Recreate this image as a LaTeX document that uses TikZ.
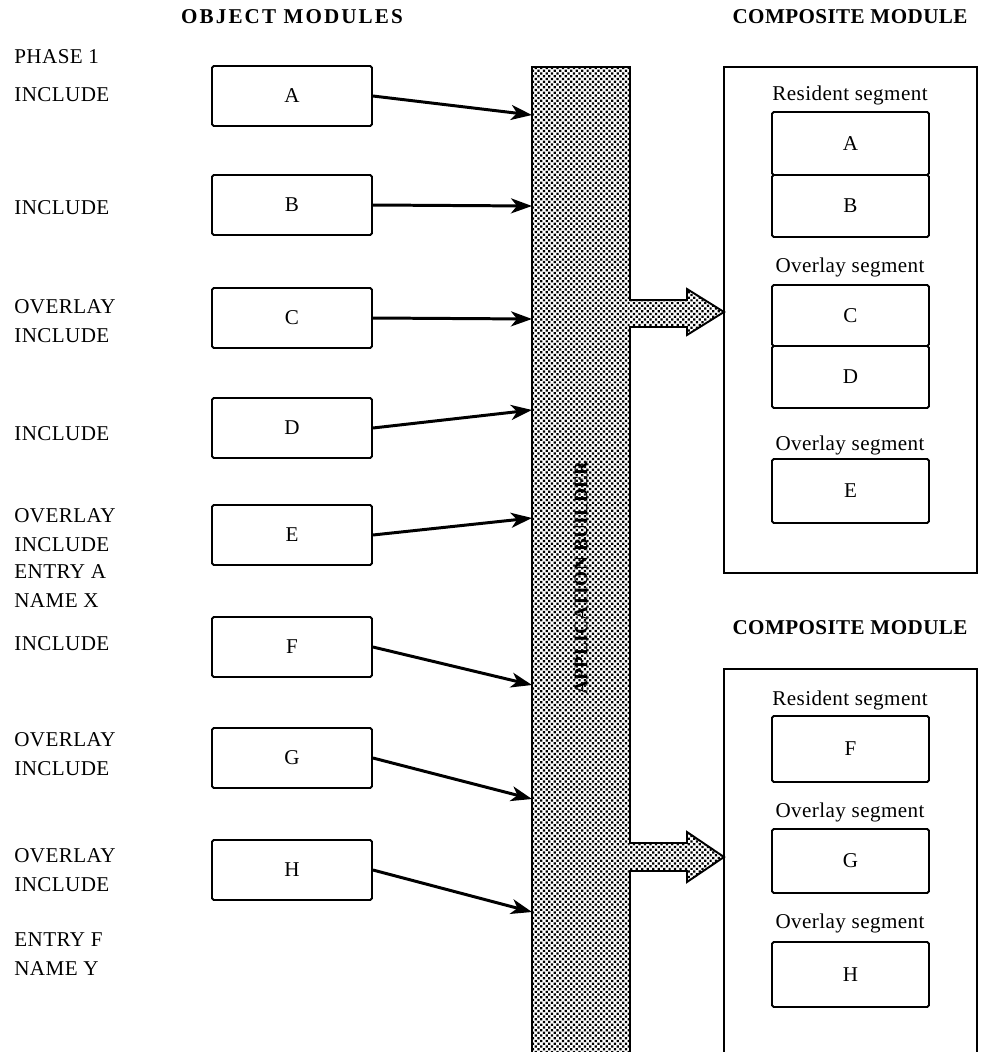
\documentclass[tikz,border=0pt]{standalone}
\usepackage{fontspec}
\setmainfont{Liberation Serif}[LetterSpace=2]
\newfontfamily\headfont{Liberation Serif}[LetterSpace=10]
\usetikzlibrary{arrows.meta,patterns.meta}

\tikzset{
  objbox/.style={draw,line width=1.1pt,rounded corners=1pt,minimum width=3.2cm,minimum height=1.2cm,inner sep=0pt},
  segbox/.style={draw,line width=1.1pt,rounded corners=1pt,minimum width=3.14cm,minimum height=1.26cm,inner sep=0pt},
  cmdlabel/.style={anchor=west,align=left,inner sep=0pt},
  heading/.style={font=\fontsize{12}{14}\headfont\bfseries,inner sep=0pt},
  compheading/.style={font=\fontsize{12}{14}\selectfont\bfseries,inner sep=0pt},
  feed/.style={line width=1.7pt,-{Stealth[length=0.42cm,width=0.3cm,inset=0.12cm]}},
  dotfill/.style={pattern={Dots[distance=2.2pt,radius=0.9pt,angle=45]}}
}

\begin{document}
\begin{tikzpicture}[x=0.02cm,y=-0.02cm,font=\fontsize{12}{16.4}\selectfont]
\useasboundingbox (0,0) rectangle (981,1052);

% headings
\node[heading] (objhead) at (292,17) {OBJECT MODULES};
\node[compheading] (comphead1) at (850,17) {COMPOSITE MODULE};
\node[compheading] (comphead2) at (850,628) {COMPOSITE MODULE};

% control statements
\node[cmdlabel] (phase) at (14,57) {PHASE 1};
\node[cmdlabel] (cmdA) at (14,95) {INCLUDE};
\node[cmdlabel] (cmdB) at (14,208) {INCLUDE};
\node[cmdlabel] (cmdC) at (14,321) {OVERLAY\\INCLUDE};
\node[cmdlabel] (cmdD) at (14,434) {INCLUDE};
\node[cmdlabel] (cmdE) at (14,530) {OVERLAY\\INCLUDE};
\node[cmdlabel] (entA) at (14,586) {ENTRY A\\NAME X};
\node[cmdlabel] (cmdF) at (14,644) {INCLUDE};
\node[cmdlabel] (cmdG) at (14,754) {OVERLAY\\INCLUDE};
\node[cmdlabel] (cmdH) at (14,870) {OVERLAY\\INCLUDE};
\node[cmdlabel] (entF) at (14,954) {ENTRY F\\NAME Y};

% application builder
\draw[line width=1.1pt,dotfill] (532,1052) -- (532,67) -- (630,67) -- (630,300)
  -- (687,300) -- (687,289) -- (724,312) -- (687,335) -- (687,327) -- (630,327)
  -- (630,843) -- (687,843) -- (687,832) -- (724,857) -- (687,882) -- (687,871)
  -- (630,871) -- (630,1052);
\node[font=\fontsize{11}{13}\selectfont\bfseries,rotate=90,inner sep=0pt] (builder) at (581,578) {APPLICATION BUILDER};

% object modules
\foreach \m/\y/\e in {A/96/115,B/205/206,C/318/319,D/428/410,E/535/518,F/647/685,G/758/799,H/870/912}{
  \node[objbox] (mod\m) at (292,\y) {\m};
  \coordinate (in\m) at (532,\e);
  \draw[feed] (mod\m.east) -- (in\m);
}

% composite modules
\node[draw,line width=1.1pt,minimum width=5.06cm,minimum height=10.12cm,inner sep=0pt] (compA) at (850.5,320) {};
\draw[line width=1.1pt] (724,1052) -- (724,669) -- (977,669) -- (977,1052);

\node (resA) at (850,95) {Resident segment};
\node[segbox] (segA) at (850.5,143.5) {A};
\node[segbox,minimum height=1.24cm] (segB) at (850.5,206) {B};
\node (ovlC) at (850,267) {Overlay segment};
\node[segbox,minimum height=1.22cm] (segC) at (850.5,315.5) {C};
\node[segbox,minimum height=1.24cm] (segD) at (850.5,377) {D};
\node (ovlE) at (850,445) {Overlay segment};
\node[segbox,minimum height=1.28cm] (segE) at (850.5,491) {E};

\node (resF) at (850,700) {Resident segment};
\node[segbox,minimum height=1.32cm] (segF) at (850.5,749) {F};
\node (ovlG) at (850,812) {Overlay segment};
\node[segbox,minimum height=1.28cm] (segG) at (850.5,861) {G};
\node (ovlH) at (850,923) {Overlay segment};
\node[segbox,minimum height=1.3cm] (segH) at (850.5,974.5) {H};
\end{tikzpicture}
\end{document}
